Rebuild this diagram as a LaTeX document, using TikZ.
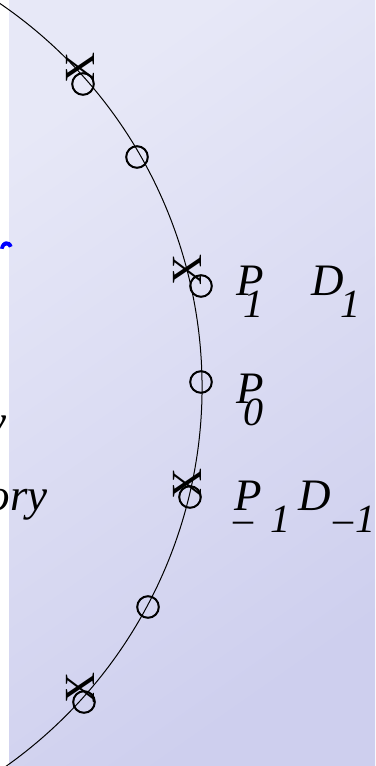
\documentclass[tikz,border=0pt]{standalone}
\usepackage{fontspec}
\setmainfont{Liberation Serif}
\definecolor{bgtop}{RGB}{231,232,247}
\definecolor{bgbot}{RGB}{206,207,238}
\newcommand{\lowsub}[2]{\hspace*{#1}\raisebox{-22pt}{\fontsize{40}{40}\selectfont #2}}
\begin{document}
\begin{tikzpicture}[
        x=1pt,
        y=-1pt,
        line join=round,
        line cap=round,
        lab/.style={inner sep=0pt, anchor=base west, font=\fontsize{45}{45}\selectfont\itshape},
        side/.style={inner sep=0pt, anchor=base east, font=\fontsize{45}{45}\selectfont\itshape},
        ring/.style={draw, line width=2pt},
        cross/.style={inner sep=0pt, rotate=90, font=\fontsize{43}{43}\selectfont}
    ]
        % 画幅
        \useasboundingbox (0,0) rectangle (375,766);
        \clip (0,0) rectangle (375,766);
        \fill[white] (0,0) rectangle (375,766);
        \shade[shading=axis, top color=bgtop, bottom color=bgbot, shading angle=35]
            (9,0) rectangle (375,766);

        % 圆弧 (圆心在画幅左侧)
        \def\cx{-263}
        \def\cy{387}
        \def\R{465}
        \draw[line width=1pt] (\cx,\cy) ++(-58:\R) arc[start angle=-58, end angle=58, radius=\R];

        % 左侧被截掉的文字
        \fill[blue] (0,248.5) .. controls (1.5,239.5) and (10.5,239) .. (12.5,246)
            -- (9,247.5) .. controls (8,244.5) and (4.5,244.5) .. (3.5,249) -- cycle;
        \node[side] (by) at (7,436) {y};
        \node[side] (traj) at (48,510) {ory};

        % 圆圈
        \foreach \px/\py in {83/84, 137/157, 201/286, 201/382, 190/497, 148/607, 84/702}
            \draw[ring] (\px,\py) circle[radius=10.8];

        % 叉号
        \node[cross] (x1) at (80,68) {X};
        \node[cross] (x2) at (187,270) {X};
        \node[cross] (x3) at (187,484) {X};
        \node[cross] (x4) at (80,688) {X};

        % 标签
        \node[lab] (p1) at (236,295) {P\lowsub{-20.5pt}{1}};
        \node[lab] (d1) at (311,295) {D\lowsub{-3.5pt}{1}};
        \node[lab] (p0) at (236,403) {P\lowsub{-20.5pt}{0}};
        \node[lab] (pm) at (234,510) {P\lowsub{-28.5pt}{\textendash}\lowsub{17pt}{1}};
        \node[lab] (dm) at (298,510) {D\lowsub{2.5pt}{\textendash}\lowsub{2pt}{1}};
    \end{tikzpicture}
\end{document}
